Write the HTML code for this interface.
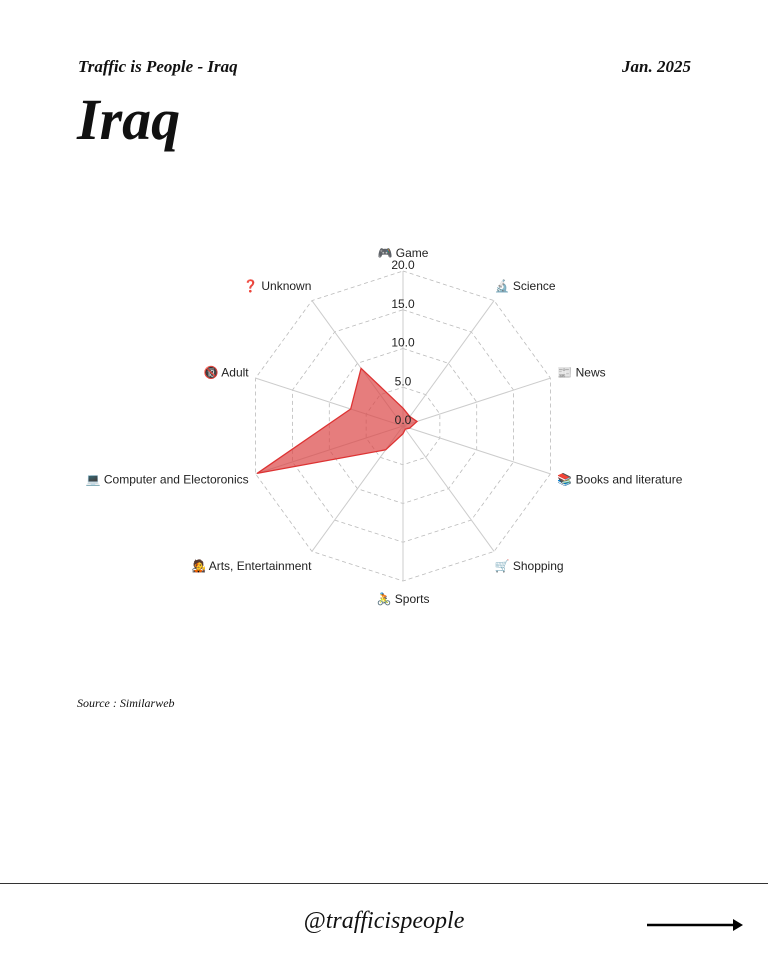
<!DOCTYPE html>
<html><head><meta charset="utf-8"><style>
body{margin:0;width:768px;height:960px;background:#fff;position:relative;overflow:hidden;font-family:"Liberation Serif",serif}
.t{position:absolute;font-style:italic;font-weight:bold;color:#111}
</style></head><body>
<div class="t" style="left:78px;top:57px;font-size:17px">Traffic is People - Iraq</div>
<div class="t" style="right:77px;top:57px;font-size:17px">Jan. 2025</div>
<div class="t" style="left:77px;top:86px;font-size:58px">Iraq</div>
<svg id="chart" width="768" height="960" style="position:absolute;left:0;top:0" font-family="Liberation Sans, DejaVu Sans, sans-serif"></svg>
<div class="t" style="left:77px;top:696px;font-size:12px;font-weight:normal">Source : Similarweb</div>
<div style="position:absolute;left:0;top:883px;width:768px;height:1px;background:#333"></div>
<div style="position:absolute;left:0;width:768px;top:908px;text-align:center;font-style:italic;font-size:24px;color:#111">@trafficispeople</div>
<svg style="position:absolute;left:645px;top:917px" width="100" height="16"><line x1="2" y1="8" x2="90" y2="8" stroke="#000" stroke-width="2.5"/><polygon points="88,2 98,8 88,14" fill="#000"/></svg>
<script>
const categories=["🎮 Game","🔬 Science","📰 News","📚 Books and literature","🛒 Shopping","🚴 Sports","🧑‍🎤 Arts, Entertainment","💻 Computer and Electoronics","🔞 Adult","❓ Unknown"];
const values=[2.3,1.5,1.9,0.9,0.5,1.0,3.8,19.8,7.1,9.2];
const tickLabels=["0.0","5.0","10.0","15.0","20.0"];
const tickValues=[0,5,10,15,20];
const maxV=20,cx=403,cy=426,R=155;
const svg=document.getElementById('chart');const NS='http://www.w3.org/2000/svg';
function mk(t,a,name){const e=document.createElementNS(NS,t);for(const k in a)e.setAttribute(k,a[k]);


svg.appendChild(e);return e;}
const n=categories.length;
function pt(i,v){const a=2*Math.PI*i/n;const r=v/maxV*R;return [cx+r*Math.sin(a),cy-r*Math.cos(a)];}
tickValues.forEach((tv,j)=>{if(tv===0)return;const p=[];for(let i=0;i<n;i++)p.push(pt(i,tv).join(','));
mk('polygon',{points:p.join(' '),fill:'none',stroke:'#bbb','stroke-dasharray':'4,3','stroke-width':0.8},'grid-ring');});
for(let i=0;i<n;i++){const [x,y]=pt(i,maxV);mk('line',{x1:cx,y1:cy,x2:x,y2:y,stroke:'#ccc','stroke-width':1},'axis-line');}
const dp=values.map((v,i)=>pt(i,v).join(',')).join(' ');
mk('polygon',{points:dp,fill:'rgba(220,70,70,0.7)',stroke:'#d33','stroke-width':1.3},'data-area');
tickValues.forEach((tv,j)=>{const [x,y]=pt(0,tv);const t=mk('text',{x:x,y:y-2,'text-anchor':'middle','font-size':12,fill:'#222'},'tick-label');t.textContent=tickLabels[j];});
categories.forEach((c,i)=>{const [x,y]=pt(i,maxV+2.3);const s=Math.sin(2*Math.PI*i/n);
const anc=Math.abs(s)<0.1?'middle':(s>0?'start':'end');
const t=mk('text',{x:x+(s>0.1?-10:s<-0.1?10:0),y:y+4,'text-anchor':anc,'font-size':12,fill:'#222'},'category-label');t.textContent=c;});
</script>
</body></html>
